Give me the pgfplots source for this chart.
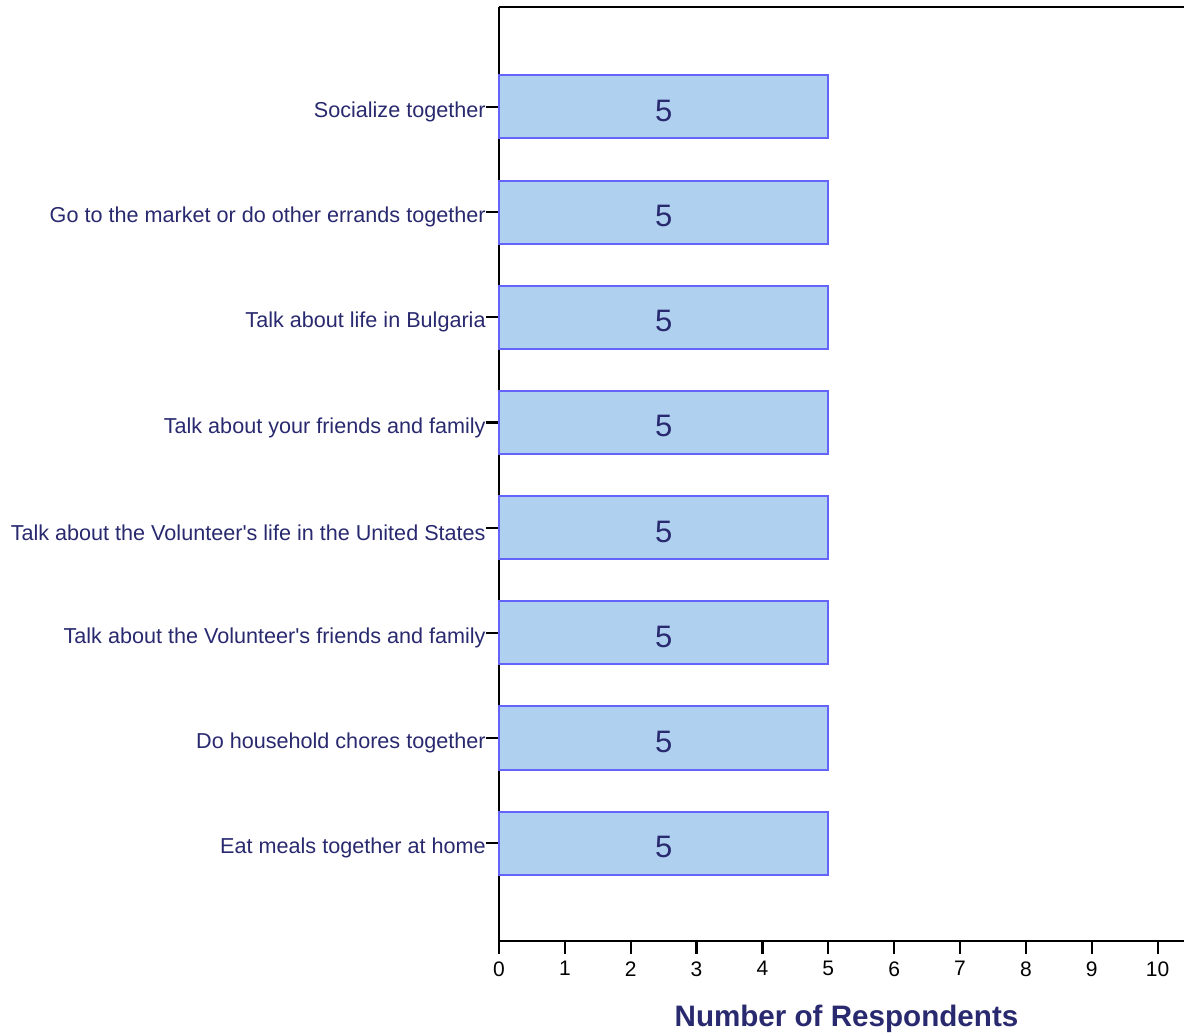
\documentclass[border=0pt]{standalone}
\usepackage{fontspec}
\setmainfont{Liberation Sans}
\setsansfont{Liberation Sans}
\usepackage{pgfplots}
\pgfplotsset{compat=1.18}
\definecolor{navy}{HTML}{29296F}
\definecolor{barfill}{HTML}{AFD0EE}
\definecolor{baredge}{HTML}{6464FA}
\begin{document}
\begin{tikzpicture}
\begin{axis}[
  scale only axis,
  width=342.5pt, height=467pt,
  xmin=0, xmax=10.4,
  ymin=-0.93, ymax=7.95,
  xtick={0,1,...,10},
  ytick={0,1,...,7},
  yticklabels={Eat meals together at home,Do household chores together,Talk about the Volunteer\textquotesingle s friends and family,Talk about the Volunteer\textquotesingle s life in the United States,Talk about your friends and family,Talk about life in Bulgaria,Go to the market or do other errands together,Socialize together},
  axis x line*=bottom, axis y line*=left,
  axis line style={line width=1pt, black, -},
  tick align=outside,
  major tick length=6.5pt,
  tick style={line width=1.1pt, black},
  /pgf/number format/assume math mode=true,
  xticklabel style={font=\fontsize{10.5}{12}\selectfont, black, inner sep=3.5pt},
  yticklabel style={font=\fontsize{10.8}{12}\selectfont, text=navy, inner sep=0pt, anchor=east, yshift=-2.5pt},
  xlabel={\textbf{Number of Respondents}},
  every axis x label/.style={at={(axis description cs:0.5,0)}, anchor=center, yshift=-39pt, xshift=2.5pt, font=\fontsize{14.8}{17}\selectfont, text=navy},
  xbar, bar width=0.6, bar shift=0pt,
  clip=false,
]
\addplot[fill=barfill, draw=baredge, line width=1pt, bar shift=0pt] coordinates {
  (5,0) (5,1) (5,2) (5,3) (5,4) (5,5) (5,6) (5,7)
};
\addplot[only marks, mark=none, nodes near coords, point meta=explicit symbolic,
  every node near coord/.append style={anchor=center, font=\fontsize{15.5}{18}\selectfont, text=navy, yshift=-2pt}] coordinates {
  (2.5,0)[5] (2.5,1)[5] (2.5,2)[5] (2.5,3)[5] (2.5,4)[5] (2.5,5)[5] (2.5,6)[5] (2.5,7)[5]
};
\draw[line width=1pt] (rel axis cs:0,1) -- (rel axis cs:1,1);
\end{axis}
\pgfresetboundingbox
\path[use as bounding box] ([xshift=-249.5pt,yshift=-46.5pt]current axis.south west) rectangle ([xshift=0.5pt,yshift=3.5pt]current axis.north east);
\end{tikzpicture}
\end{document}
